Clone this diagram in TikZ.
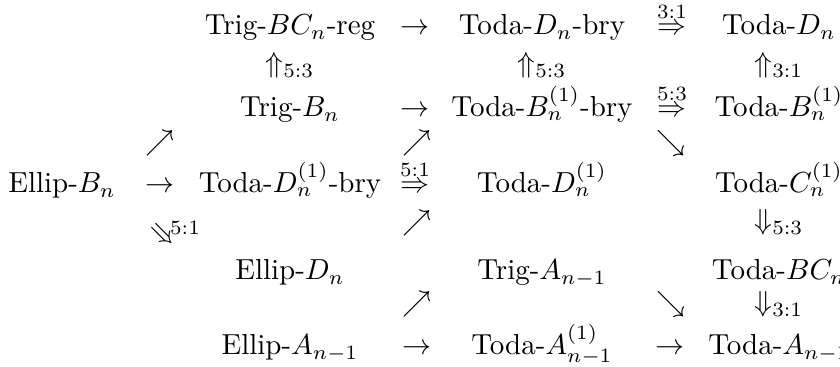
\documentclass[tikz,border=0pt]{standalone}
\usepackage{amsmath,amssymb}
\usetikzlibrary{positioning}
\tikzset{
  obj/.style = {anchor=base, inner sep=0pt},
  rel/.style = {anchor=base, inner sep=0pt},
  lbl/.style = {anchor=base, inner sep=0pt, font=\scriptsize},
}

\begin{document}
\begin{tikzpicture}[x=0.345pt, y=-0.345pt]
\useasboundingbox (0,0) rectangle (840,367);
\clip (0,0) rectangle (840,367);
% ---- row 1 ----
\node[obj] (tbcreg) at (290,35) {Trig-$BC_n$-reg};
\node[rel] (to1) at (415,35) {$\to$};
\node[obj] (tdbry) at (542,35) {Toda-$D_n$-bry};
\node[rel] (dbl1) at (672,35) {$\stackrel{3:1}{\Rightarrow}$};
\node[obj] (td) at (779,35) {Toda-$D_n$};
% ---- row 2 ----
\node[rel] (up1) at (290,73) {$\Uparrow_{5:3}$};
\node[rel] (up2) at (542,73) {$\Uparrow_{5:3}$};
\node[rel] (up3) at (779,73) {$\Uparrow_{3:1}$};
% ---- row 3 ----
\node[obj] (tb) at (290,117) {Trig-$B_n$};
\node[rel] (to2) at (415,117) {$\to$};
\node[obj] (tbbry) at (542,117) {Toda-$B_n^{(1)}$-bry};
\node[rel] (dbl2) at (672,117) {$\stackrel{5:3}{\Rightarrow}$};
\node[obj] (tbone) at (779,117) {Toda-$B_n^{(1)}$};
% ---- row 4 ----
\node[rel] (ne1) at (160,151) {$\nearrow$};
\node[rel] (ne2) at (417,151) {$\nearrow$};
\node[rel] (se1) at (671,151) {$\searrow$};
% ---- row 5 ----
\node[obj] (eb) at (62,193) {Ellip-$B_n$};
\node[rel] (to3) at (160,193) {$\to$};
\node[obj] (tdobry) at (290,193) {Toda-$D_n^{(1)}$-bry};
\node[rel] (dbl3) at (415,193) {$\stackrel{5:1}{\Rightarrow}$};
\node[obj] (tdone) at (542,193) {Toda-$D_n^{(1)}$};
\node[obj] (tcone) at (779,193) {Toda-$C_n^{(1)}$};
% ---- row 6 ----
\node[rotate=-45, inner sep=0pt] (sw1) at (162,236) {$\Rightarrow$};
\node[lbl] (sw1l) at (185,235) {$5{:}1$};
\node[rel] (ne3) at (417,231) {$\nearrow$};
\node[rel] (dn1) at (779,230) {$\Downarrow_{5:3}$};
% ---- row 7 ----
\node[obj] (ed) at (290,280) {Ellip-$D_n$};
\node[obj] (ta) at (542,280) {Trig-$A_{n-1}$};
\node[obj] (tbc) at (779,280) {Toda-$BC_n$};
% ---- row 8 ----
\node[rel] (ne4) at (417,312) {$\nearrow$};
\node[rel] (se2) at (671,312) {$\searrow$};
\node[rel] (dn2) at (779,312) {$\Downarrow_{3:1}$};
% ---- row 9 ----
\node[obj] (ea) at (290,355) {Ellip-$A_{n-1}$};
\node[rel] (to4) at (417,355) {$\to$};
\node[obj] (taone) at (542,355) {Toda-$A_{n-1}^{(1)}$};
\node[rel] (to5) at (670,355) {$\to$};
\node[obj] (tan) at (779,355) {Toda-$A_{n-1}$};
\end{tikzpicture}
\end{document}
